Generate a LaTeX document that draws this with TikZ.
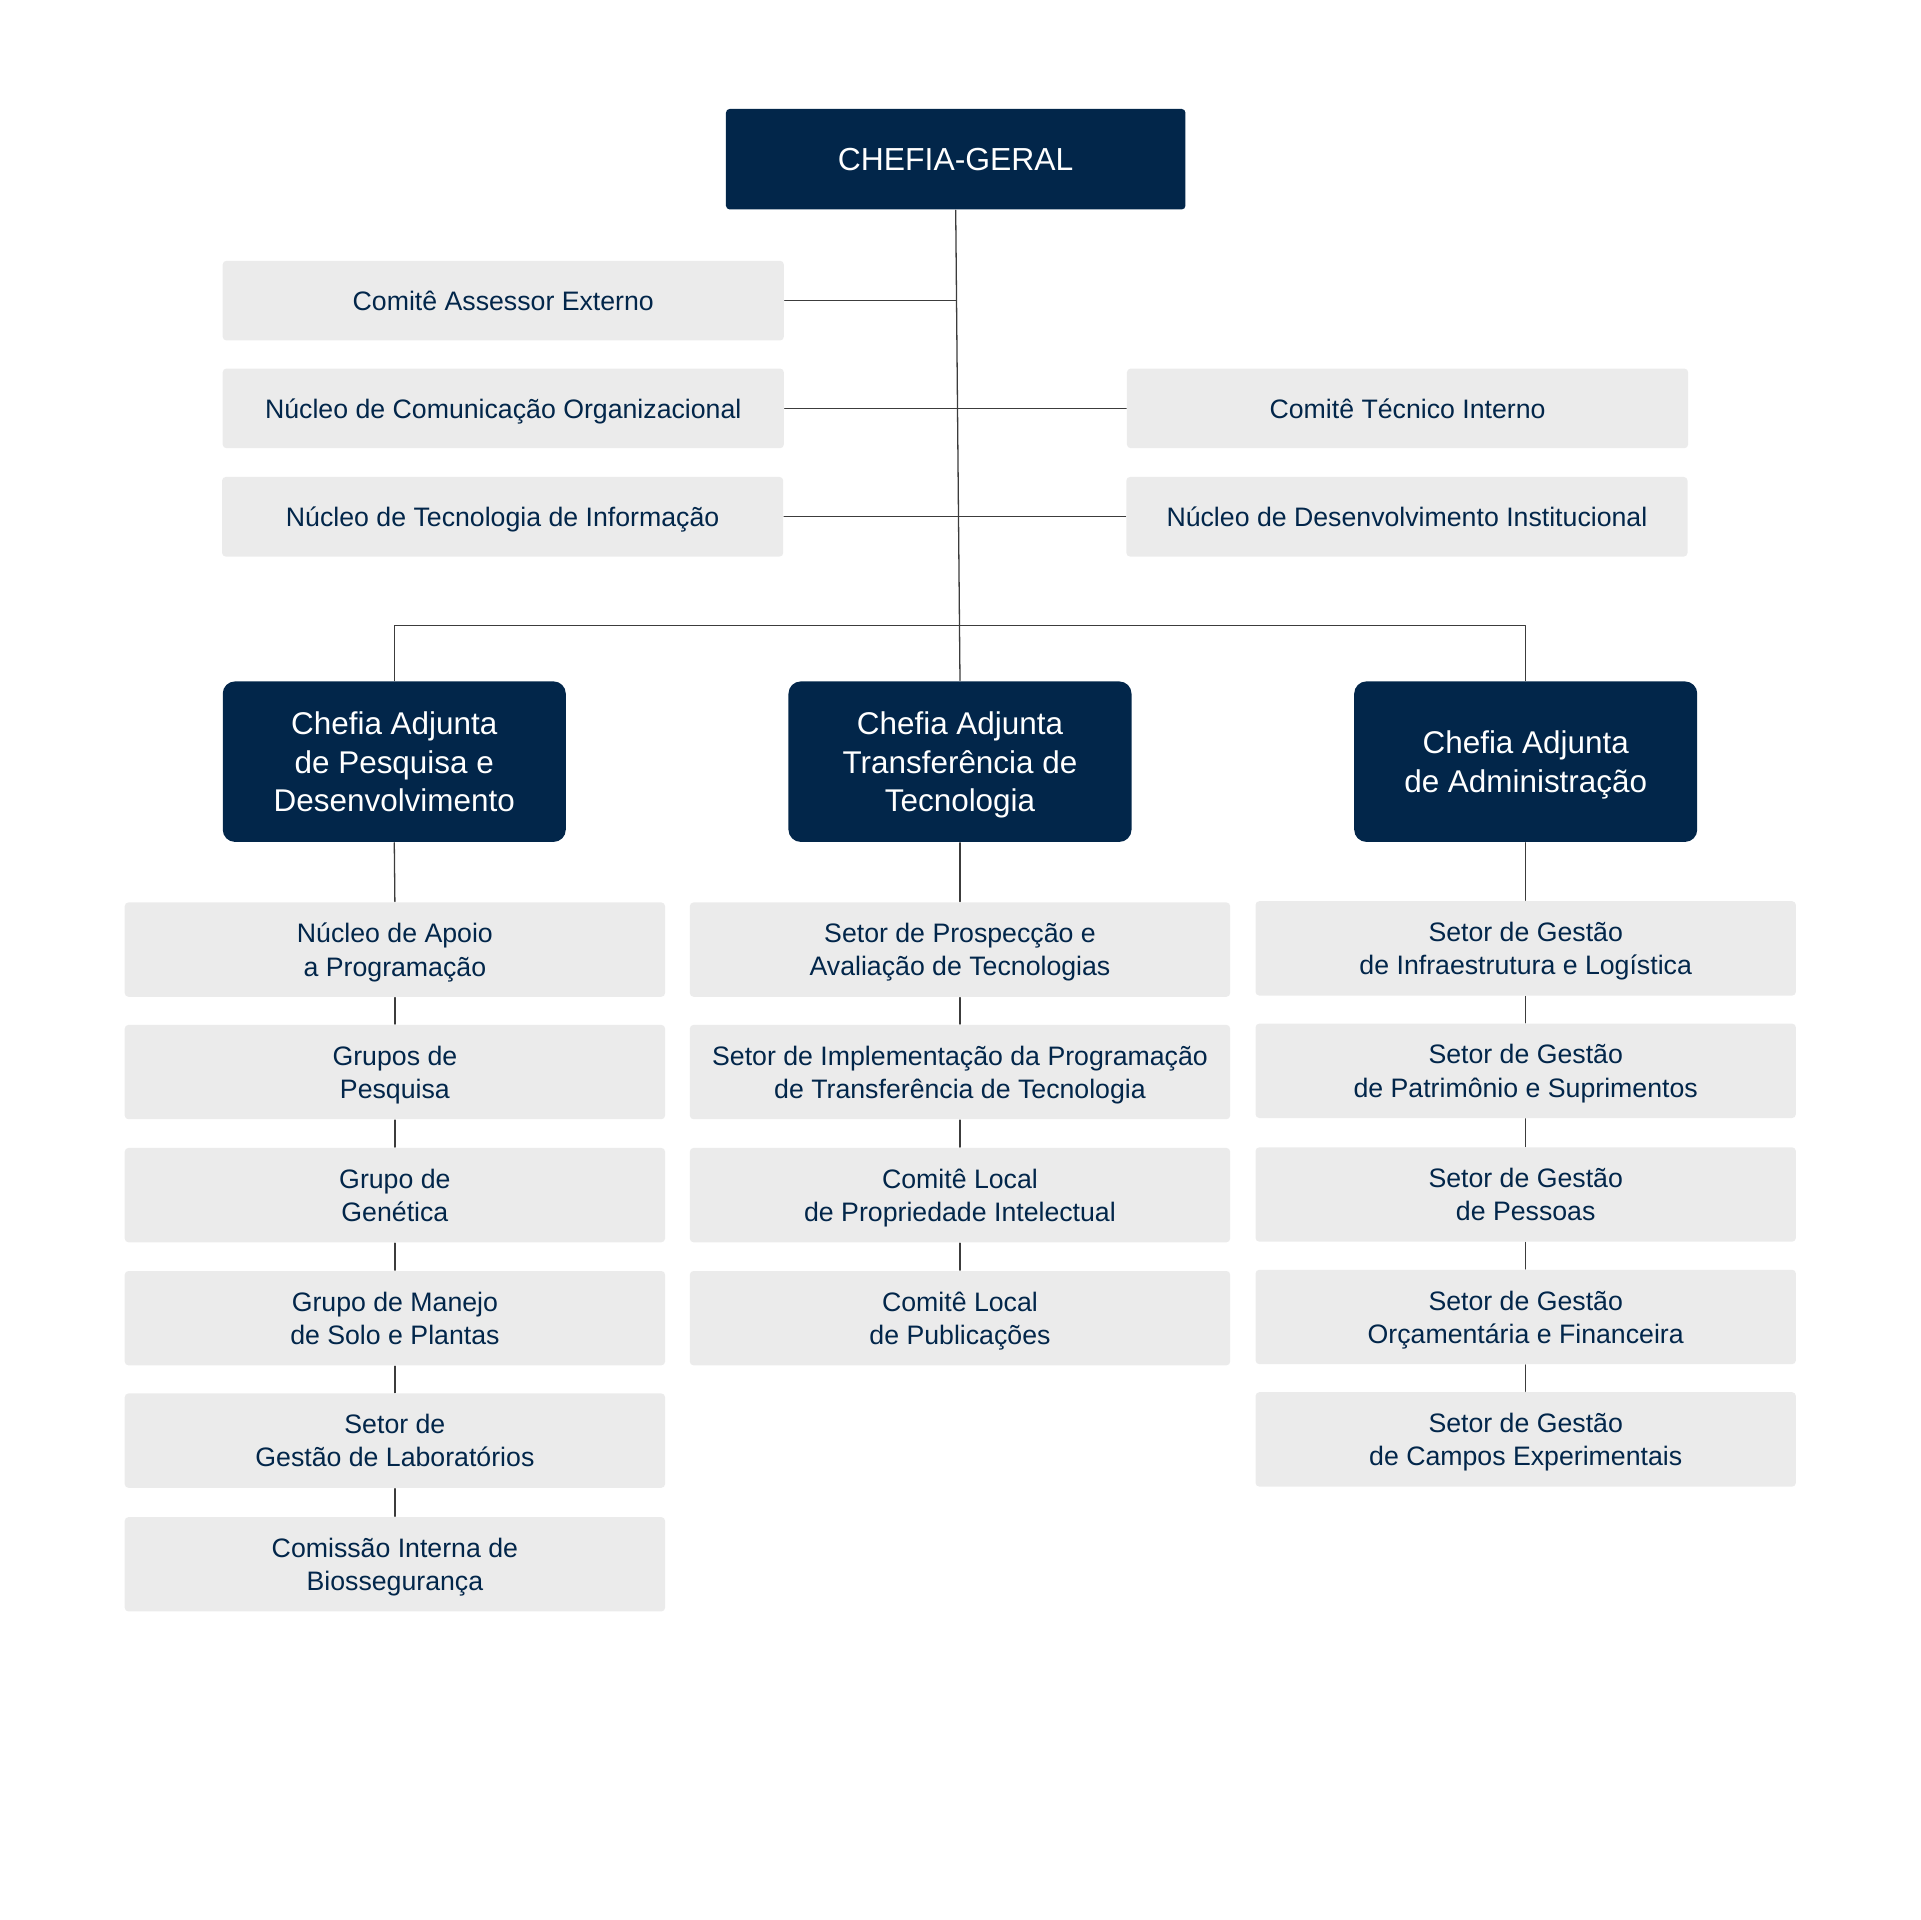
\documentclass[tikz,border=0pt]{standalone}
\usepackage{fontspec}
\setmainfont{Liberation Sans}
\definecolor{navy}{RGB}{2,38,74}
\definecolor{boxgray}{RGB}{235,235,235}
\definecolor{linegray}{RGB}{60,60,60}

\begin{document}
\begin{tikzpicture}[line cap=round,line join=round,x=0.01cm,y=-0.01cm,
    chefe/.style={fill=navy,text=white,inner sep=0pt,align=center,text depth=0pt},
    geral/.style={chefe,rounded corners=0.03cm,minimum width=3.75cm,minimum height=0.82cm,
      font=\fontsize{7.4pt}{8.4pt}\selectfont},
    adjunta/.style={chefe,rounded corners=0.1cm,minimum width=2.8cm,minimum height=1.31cm,
      font=\fontsize{7.3pt}{8.96pt}\selectfont},
    setor/.style={fill=boxgray,text=navy,inner sep=0pt,align=center,text depth=0pt,
      rounded corners=0.03cm,font=\fontsize{6.2pt}{7.7pt}\selectfont},
    assessor/.style={setor,minimum width=4.58cm,minimum height=0.65cm},
    unidade/.style={setor,minimum width=4.41cm,minimum height=0.77cm},
    liga/.style={draw=linegray,line width=0.3pt}]
    \useasboundingbox (0,0) rectangle (1568,1568);

    \node[geral] (chefia) at (780.5,130) {CHEFIA-GERAL};

    \node[assessor] (cae) at (411,245.5) {Comitê Assessor Externo};
    \node[assessor] (nco) at (411,333.5) {Núcleo de Comunicação Organizacional};
    \node[assessor] (nti) at (410.5,422) {Núcleo de Tecnologia de Informação};
    \node[assessor] (cti) at (1149.5,333.5) {Comitê Técnico Interno};
    \node[assessor] (ndi) at (1149,422) {Núcleo de Desenvolvimento Institucional};

    \node[adjunta] (adjpd) at (322,622) {Chefia Adjunta\\de Pesquisa e\\Desenvolvimento};
    \node[adjunta] (adjtt) at (784,622) {Chefia Adjunta\\Transferência de\\Tecnologia};
    \node[adjunta] (adjad) at (1246,622) {Chefia Adjunta\\de Administração};

    \node[unidade] (pd1) at (322.5,775.5) {Núcleo de Apoio\\a Programação};
    \node[unidade] (pd2) at (322.5,875.5) {Grupos de\\Pesquisa};
    \node[unidade] (pd3) at (322.5,976) {Grupo de\\Genética};
    \node[unidade] (pd4) at (322.5,1076.5) {Grupo de Manejo\\de Solo e Plantas};
    \node[unidade] (pd5) at (322.5,1176.5) {Setor de\\Gestão de Laboratórios};
    \node[unidade] (pd6) at (322.5,1277.5) {Comissão Interna de\\Biossegurança};

    \node[unidade] (tt1) at (784,775.5) {Setor de Prospecção e\\Avaliação de Tecnologias};
    \node[unidade] (tt2) at (784,875.5) {Setor de Implementação da Programação\\de Transferência de Tecnologia};
    \node[unidade] (tt3) at (784,976) {Comitê Local\\de Propriedade Intelectual};
    \node[unidade] (tt4) at (784,1076.5) {Comitê Local\\de Publicações};

    \node[unidade] (ad1) at (1246,774.5) {Setor de Gestão\\de Infraestrutura e Logística};
    \node[unidade] (ad2) at (1246,874.5) {Setor de Gestão\\de Patrimônio e Suprimentos};
    \node[unidade] (ad3) at (1246,975.5) {Setor de Gestão\\de Pessoas};
    \node[unidade] (ad4) at (1246,1075.5) {Setor de Gestão\\Orçamentária e Financeira};
    \node[unidade] (ad5) at (1246,1175.5) {Setor de Gestão\\de Campos Experimentais};

    \coordinate (bus) at (784,511);

    \draw[liga] (chefia.south) -- (adjtt.north);
    \draw[liga] (cae.east) -- (cae.east -| chefia.south);
    \draw[liga] (nco.east) -- (cti.west);
    \draw[liga] (nti.east) -- (ndi.west);
    \draw[liga] (adjpd.north) |- (bus) -| (adjad.north);

    \foreach \a/\b in {adjpd/pd1,pd1/pd2,pd2/pd3,pd3/pd4,pd4/pd5,pd5/pd6,
        adjtt/tt1,tt1/tt2,tt2/tt3,tt3/tt4,
        adjad/ad1,ad1/ad2,ad2/ad3,ad3/ad4,ad4/ad5}
      \draw[liga] (\a.south) -- (\b.north);
  \end{tikzpicture}
\end{document}
